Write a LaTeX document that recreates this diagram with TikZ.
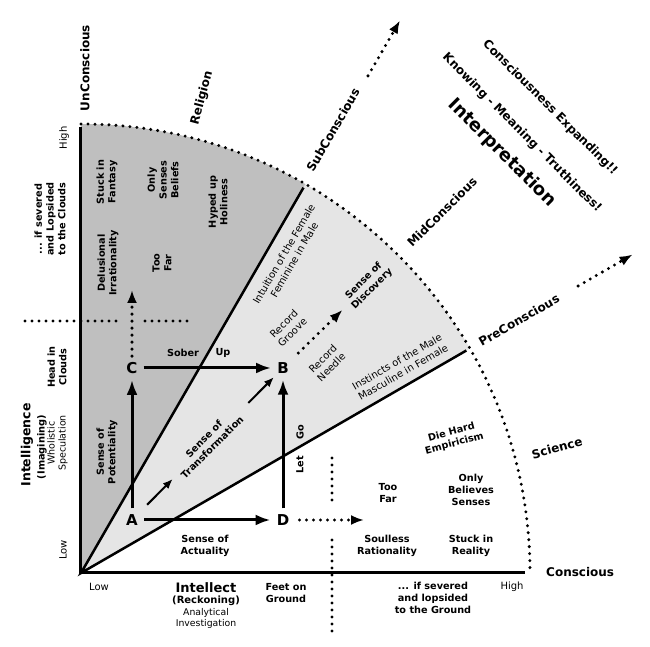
\documentclass[tikz,border=0pt]{standalone}
\usepackage{fontspec}
\setmainfont{DejaVu Sans}
\usetikzlibrary{arrows.meta,calc}

\begin{document}
\begin{tikzpicture}[x=1pt,y=1pt,
        lbl/.style={font=\fontsize{9.7}{11.7}\selectfont\bfseries,align=center,inner sep=0pt},
        thin/.style={font=\fontsize{10}{12}\selectfont,align=center,inner sep=0pt},
        hdr/.style={font=\fontsize{12}{14}\selectfont\bfseries,inner sep=0pt},
        pnt/.style={font=\fontsize{15}{15}\selectfont\bfseries,inner sep=6pt},
        arr/.style={line width=3pt,-{Latex[length=15pt,width=11pt]}},
        smallarr/.style={line width=2pt,-{Latex[length=10pt,width=8pt]}},
        dots/.style={line width=3.3pt,line cap=round,dash pattern=on 0pt off 7pt},
        dotarr/.style={dots,-{Latex[length=13pt,width=10pt]}}]
        \useasboundingbox (-81,-74) rectangle (569,573);
        \fill[gray!50] (0,0) -- (60:449) arc[start angle=60,end angle=90,radius=449] -- cycle;
        \fill[gray!20] (0,0) -- (30:449) arc[start angle=30,end angle=60,radius=449] -- cycle;
        \draw[line width=2.5pt] (60:445) -- (0,0) -- (30:445);
        \draw[line width=3pt] (0,446) -- (0,0) -- (444,0);
        \draw[dots] (90:449) arc[start angle=90,end angle=0,radius=449];

        \node[hdr,rotate=90] (uncon) at (4,505) {UnConscious};
        \node[hdr,rotate=75] (relig) at (121,475) {Religion};
        \node[hdr,rotate=60] (subcon) at (252,443) {SubConscious};
        \node[hdr,rotate=45] (midcon) at (361,361) {MidConscious};
        \node[hdr,rotate=30] (precon) at (438,253) {PreConscious};
        \node[hdr,rotate=15] (sci) at (476,125) {Science};
        \node[hdr,anchor=west] (con) at (465,1) {Conscious};
        \node[hdr,rotate=-45] (expand) at (469,465) {Consciousness Expanding!!};
        \node[hdr,rotate=-45] (know) at (441,440) {Knowing - Meaning - Truthiness!};
        \node[hdr,rotate=-45,font=\fontsize{18}{20}\selectfont\bfseries] (interp) at (421,420) {Interpretation};

        \node[pnt] (A) at (51,53) {A};
        \node[pnt] (B) at (202,205) {B};
        \node[pnt] (C) at (51,205) {C};
        \node[pnt] (D) at (202,53) {D};
        \draw[arr] (A) -- (C);
        \draw[arr] (A) -- (D);
        \draw[arr] (C) -- (B);
        \draw[arr] (D) -- (B);
        \draw[smallarr] ($(A)!0.1!(B)$) -- ($(A)!0.27!(B)$);
        \draw[smallarr] ($(A)!0.77!(B)$) -- ($(A)!0.94!(B)$);

        \node[lbl,rotate=45] (disc) at (287,288) {Sense of\\Discovery};
        \coordinate (cup) at (51,283);
        \coordinate (dend) at (283,53);
        \draw[dotarr] (C) -- (cup);
        \draw[dotarr,shorten <=4pt] (D) -- (dend);
        \draw[dotarr] ($(B)!0.18!(disc)$) -- ($(B)!0.7!(disc)$);
        \draw[dotarr] (60:574) -- (60:638);
        \draw[dotarr] (30:574) -- (30:637);
        \draw[dots] (-56,252) -- (39,252);
        \draw[dots] (64,252) -- (112,252);
        \draw[dots] (251,115) -- (251,67);
        \draw[dots] (251,33) -- (251,-59);

        \node[lbl,rotate=90] (fantasy) at (26,391) {Stuck in\\Fantasy};
        \node[lbl,rotate=90] (beliefs) at (82,393) {Only\\Senses\\Beliefs};
        \node[lbl,rotate=90] (holy) at (137,371) {Hyped up\\Holiness};
        \node[lbl,rotate=90] (delus) at (27,310) {Delusional\\Irrationality};
        \node[lbl,rotate=90] (farup) at (81,310) {Too\\Far};
        \node[lbl,rotate=90] (clouds) at (-31,354) {... if severed\\and Lopsided\\to the Clouds};
        \node[thin,rotate=90] (yhigh) at (-17,435) {High};
        \node[thin,rotate=90] (ylow) at (-18,23) {Low};
        \node[lbl,rotate=90] (head) at (-24,206) {Head in\\Clouds};
        \node[rotate=90,font=\fontsize{12.5}{14}\selectfont\bfseries,inner sep=0pt] (intel) at (-54,128) {Intelligence};
        \node[rotate=90,font=\fontsize{9.8}{11}\selectfont\bfseries,inner sep=0pt] (imag) at (-39,126) {(Imagining)};
        \node[thin,rotate=90,font=\fontsize{9.5}{11}\selectfont] (whol) at (-23.5,130) {Wholistic\\Speculation};
        \node[lbl,rotate=90] (potent) at (26,121) {Sense of\\Potentiality};
        \node[lbl] (sober) at (102,220) {Sober};
        \node[lbl] (up) at (142,220) {Up};
        \node[lbl,rotate=45] (transf) at (127,130) {Sense of\\Transformation};
        \node[lbl,rotate=90] (let) at (219,108) {Let};
        \node[lbl,rotate=90] (go) at (219,141) {Go};
        \node[lbl] (actual) at (124,27) {Sense of\\Actuality};
        \node[thin] (xlow) at (18,-14) {Low};
        \node[font=\fontsize{13}{15}\selectfont\bfseries,inner sep=0pt] (intellect) at (125,-15) {Intellect};
        \node[font=\fontsize{10}{12}\selectfont\bfseries,inner sep=0pt] (reck) at (125,-28) {(Reckoning)};
        \node[thin,font=\fontsize{9.3}{11}\selectfont] (analyt) at (125,-45.5) {Analytical\\Investigation};
        \node[lbl] (feet) at (205,-20) {Feet on\\Ground};
        \node[lbl] (fardown) at (307,80) {Too\\Far};
        \node[lbl] (senses) at (390,83) {Only\\Believes\\Senses};
        \node[lbl] (soulless) at (306,27) {Soulless\\Rationality};
        \node[lbl] (reality) at (390,27) {Stuck in\\Reality};
        \node[lbl,rotate=15] (empir) at (372,135) {Die Hard\\Empiricism};
        \node[lbl] (ground) at (352,-25) {... if severed\\and lopsided\\to the Ground};
        \node[thin] (xhigh) at (431,-14) {High};
        \node[thin,rotate=30] (male) at (319,206) {Instincts of the Male\\Masculine in Female};
        \node[thin,rotate=60] (female) at (208,316) {Intuition of the Female\\Feminine in Male};
        \node[thin,rotate=45] (groove) at (207,245) {Record\\Groove};
        \node[thin,rotate=45] (needle) at (246,210) {Record\\Needle};
    \end{tikzpicture}
\end{document}
